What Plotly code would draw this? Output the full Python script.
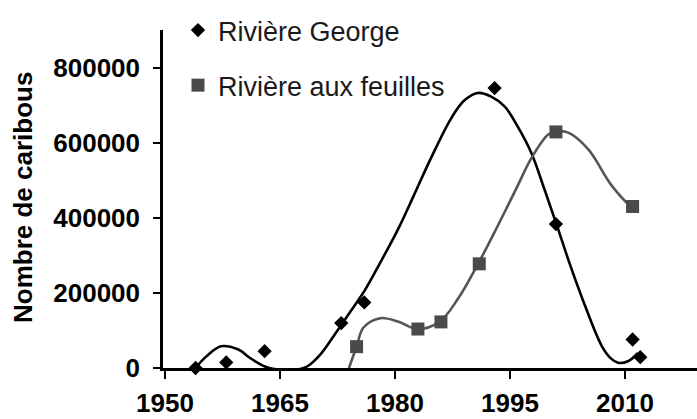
import plotly.graph_objects as go

# Survey points
george_years = [1954, 1958, 1963, 1973, 1976, 1993, 2001, 2011, 2012]
george_values = [0, 15000, 45000, 120000, 175000, 747000, 384000, 76000, 29000]

feuilles_years = [1975, 1983, 1986, 1991, 2001, 2011]
feuilles_values = [57000, 104000, 123000, 278000, 630000, 431000]

# Smoothed trend curves as drawn in the picture
george_curve_years = [1954, 1955.4, 1957.3, 1959.5, 1961.3, 1963.6, 1968.1, 1970.0,
                      1972.0, 1974.0, 1976.0, 1978.0, 1980.4, 1982.5, 1984.7, 1987.3,
                      1989.0, 1990.8, 1992.5, 1994.3, 1996.0, 1997.8, 1999.5, 2001.1,
                      2002.6, 2004.8, 2007.0, 2008.2, 2009.1, 2010.4, 2011.7]
george_curve_values = [0, 31000, 58000, 50000, 24000, 0, 0, 30000,
                       85000, 145000, 205000, 278000, 370000, 462000, 560000, 665000,
                       713000, 734000, 725000, 698000, 645000, 574000, 477000, 382000,
                       290000, 166000, 58000, 25000, 14000, 18000, 40000]

feuilles_curve_years = [1974.0, 1975.0, 1975.9, 1978.1, 1980.4, 1982.9, 1985.8, 1988.2,
                        1990.9, 1993.4, 1996.0, 1997.8, 2000.0, 2001.1, 2002.6, 2005.2,
                        2008.3, 2010.9, 2011.8]
feuilles_curve_values = [0, 57000, 108000, 133000, 124000, 104000, 123000, 184000,
                         280000, 379000, 486000, 560000, 623000, 631000, 628000, 584000,
                         486000, 431000, 430000]

x_ticks = [1950, 1965, 1980, 1995, 2010]
y_ticks = [0, 200000, 400000, 600000, 800000]

FONT = "Liberation Sans, Arial, sans-serif"
GRAY = "#555555"

fig = go.Figure()

fig.add_trace(go.Scatter(
    x=george_curve_years, y=george_curve_values, mode="lines",
    line=dict(color="black", width=2.6, shape="spline", smoothing=1.0),
    showlegend=False, hoverinfo="skip"))
fig.add_trace(go.Scatter(
    x=feuilles_curve_years, y=feuilles_curve_values, mode="lines",
    line=dict(color=GRAY, width=2.6, shape="spline", smoothing=1.0),
    showlegend=False, hoverinfo="skip"))

fig.add_trace(go.Scatter(
    x=george_years, y=george_values, mode="markers", name="Rivière George",
    marker=dict(symbol="diamond", size=11, color="black"),
    cliponaxis=False, legendgroup="g"))
fig.add_trace(go.Scatter(
    x=feuilles_years, y=feuilles_values, mode="markers", name="Rivière aux feuilles",
    marker=dict(symbol="square", size=13, color="#4a4a4a"),
    cliponaxis=False, legendgroup="f"))

fig.update_layout(
    width=697, height=419,
    margin=dict(l=163, r=0, t=30, b=51, autoexpand=False),
    paper_bgcolor="white", plot_bgcolor="white",
    font=dict(family=FONT, color="black"),
    showlegend=True,
    legend=dict(
        x=(178 - 163) / 534, y=(368 - 6) / 338, xanchor="left", yanchor="top",
        xref="paper", yref="paper",
        bgcolor="rgba(0,0,0,0)",
        font=dict(family=FONT, size=27, color="#1a1a1a"),
        traceorder="grouped", tracegroupgap=17,
        itemwidth=30,
    ),
    xaxis=dict(
        range=[1949.75, 2019.4], automargin=False,
        tickvals=x_ticks, ticktext=[str(t) for t in x_ticks],
        showgrid=False, zeroline=False,
        showline=True, linecolor="black", linewidth=2.5,
        ticks="outside", ticklen=8, tickwidth=2, tickcolor="black",
        ticklabelstandoff=2,
        tickfont=dict(family=FONT, size=26, color="black", weight="bold"),
    ),
    yaxis=dict(
        range=[0, 902000], automargin=False,
        tickvals=y_ticks, ticktext=[str(t) for t in y_ticks],
        showgrid=False, zeroline=False,
        showline=True, linecolor="black", linewidth=2.5,
        ticks="outside", ticklen=7, tickwidth=2, tickcolor="black",
        ticklabelstandoff=8,
        tickfont=dict(family=FONT, size=26, color="black", weight="bold"),
    ),
    annotations=[dict(
        text="<b>Nombre de caribous</b>", textangle=-90,
        xref="paper", yref="paper",
        x=(23 - 163) / 534, y=(419 - 51 - 198) / 338,
        xanchor="center", yanchor="middle", showarrow=False,
        font=dict(family=FONT, size=26, color="black"),
    )],
)

fig.write_html("out.html", config={"displayModeBar": False},
               post_script="document.body.style.margin='0';")
